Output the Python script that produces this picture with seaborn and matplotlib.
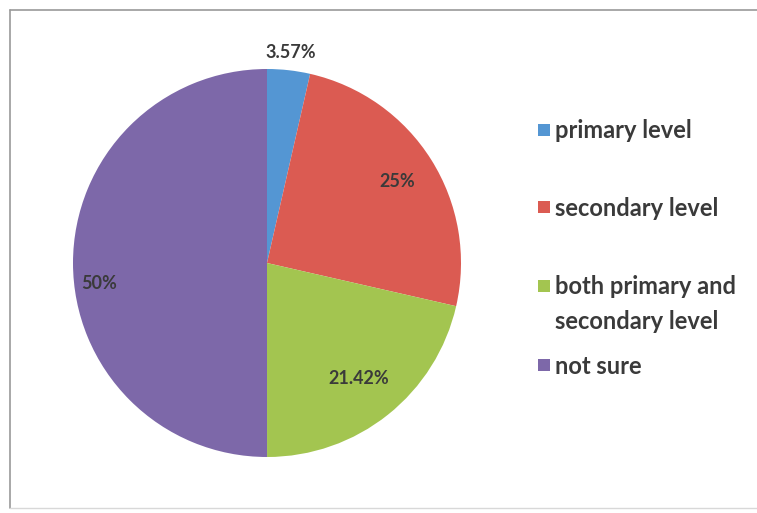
import numpy as np
import matplotlib
matplotlib.use("Agg")
import matplotlib.pyplot as plt
from matplotlib.patches import Rectangle
from matplotlib.lines import Line2D
import seaborn as sns

# Survey answers: at which level the subject should be taught
categories = ["primary level", "secondary level",
              "both primary and\nsecondary level", "not sure"]
shares = [3.57, 25, 21.42, 50]
value_labels = ["3.57%", "25%", "21.42%", "50%"]
colors = ["#5496d3", "#db5b52", "#a3c550", "#7d68a9"]

sns.set_theme(style="white")
plt.rcParams["font.family"] = ["Lato", "DejaVu Sans"]

W, H = 757, 513
fig = plt.figure(figsize=(W / 100, H / 100), dpi=100)
fig.patch.set_facecolor("white")

# pie axes: centre (267, 263) px, radius 194 px
cx, cy, r = 267, 263, 194
ax = fig.add_axes([(cx - r) / W, (H - cy - r) / H, 2 * r / W, 2 * r / H])
palette = sns.color_palette(colors)
wedges, _ = ax.pie(shares, colors=palette, startangle=90, counterclock=False,
                   radius=1.0, wedgeprops=dict(linewidth=0))
ax.set_xlim(-1, 1)
ax.set_ylim(-1, 1)
ax.set_aspect("equal")
ax.axis("off")

# value labels, placed along each wedge's mid-angle
label_dist = [1.09, 0.79, 0.76, 0.87]
label_shift = [0, 0, 0, 7]
for w, txt, d, s in zip(wedges, value_labels, label_dist, label_shift):
    ang = np.deg2rad((w.theta1 + w.theta2) / 2 + s)
    ax.text(d * np.cos(ang), d * np.sin(ang), txt, ha="center", va="center",
            fontsize=13, fontweight="bold", color="#3a3a3a")

# legend
leg_y = [131, 208, 304, 366]
for lab, col, y in zip(categories, palette, leg_y):
    sq = 12
    n_lines = lab.count("\n") + 1
    sq_y = y - (n_lines - 1) * 17.5
    fig.patches.append(Rectangle((538 / W, (H - sq_y - sq / 2 + 1) / H), sq / W, sq / H,
                                 transform=fig.transFigure, color=col,
                                 linewidth=0))
    fig.text(555 / W, (H - y) / H, lab, ha="left", va="center",
             fontsize=17, fontweight="bold", color="#3a3a3a",
             linespacing=1.6)

# chart frame: top, left and bottom edges
frame = dict(transform=fig.transFigure, color="#9a9a9a", linewidth=1.2)
fig.lines.append(Line2D([9.5 / W, 1], [(H - 9.5) / H] * 2, **frame))
fig.lines.append(Line2D([9.5 / W] * 2, [(H - 9.5) / H, (H - 508) / H], **frame))
fig.lines.append(Line2D([9.5 / W, 1], [(H - 508) / H] * 2,
                        transform=fig.transFigure, color="#d8d8d8", linewidth=1))

fig.savefig("out.png", dpi=100)
